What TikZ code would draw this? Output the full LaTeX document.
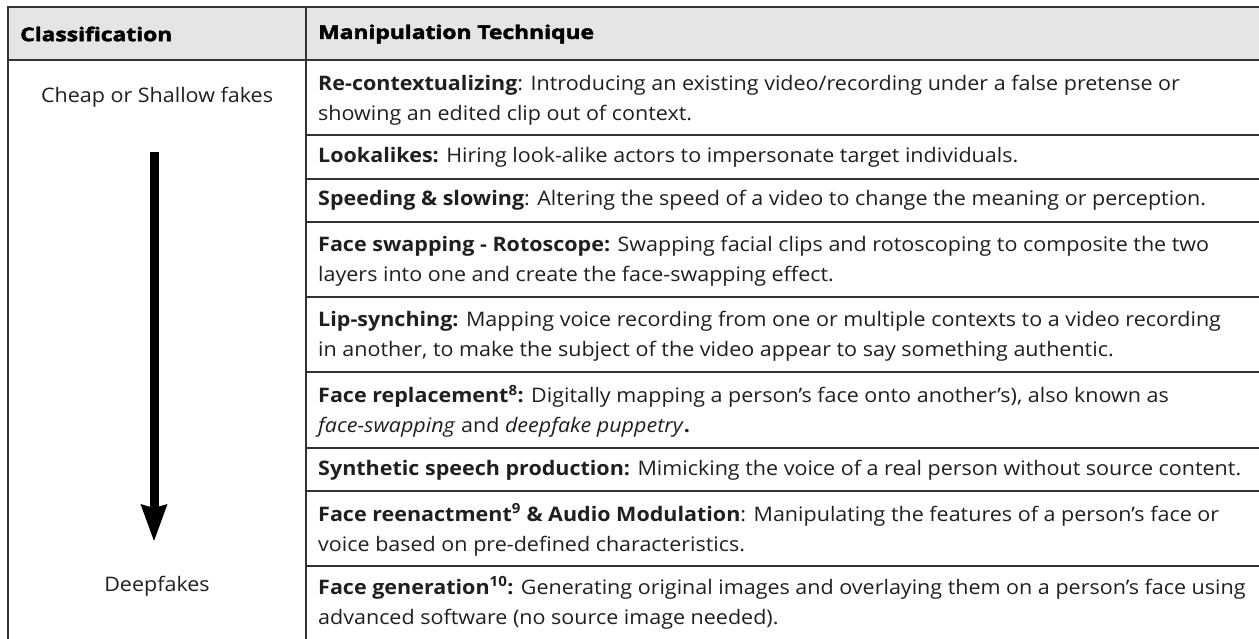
\documentclass[tikz,border=0pt]{standalone}
\usepackage{fontspec}
\setmainfont{Open Sans}[FakeStretch=1.075]
\newfontfamily\heavyfont{Open Sans}[FakeStretch=1.2, BoldFeatures={FakeBold=2.4}]
\usetikzlibrary{arrows.meta}
\begin{document}
\begin{tikzpicture}[x=1pt,y=-1pt,
  grid/.style={draw=black!80, line width=1.3pt},
  cell/.style={anchor=west, align=left, inner sep=0pt, font=\fontsize{20}{30}\selectfont, text=black!88},
  head/.style={anchor=west, inner sep=0pt, font=\heavyfont\bfseries\fontsize{19}{22}\selectfont, text=black},
  lab/.style={inner sep=0pt, font=\fontsize{20}{24}\selectfont, text=black!88},
  bigarrow/.style={line width=9pt, -{Stealth[length=37pt,width=27pt,inset=4pt,line width=0pt]}}
]
\useasboundingbox (0,0) rectangle (1259,638);
\fill[gray!20] (8,7) rectangle (1259,60);
\draw[grid] (1262,7) -- (8,7) -- (8,642);
\draw[grid] (306,7) -- (306,642);
\draw[grid] (8,60) -- (1262,60);
\foreach \yy in {135,179,222,297,372,448,491,566} {
  \draw[grid] (306,\yy) -- (1262,\yy);
}
\node[head] (hc) at (20,34) {Classification};
\node[head] (hm) at (318,34) {Manipulation Technique};

\node[lab] (cheap) at (157,97) {Cheap or Shallow fakes};
\node[lab] (deep) at (157,586) {Deepfakes};
\coordinate (atop) at (154,152);
\coordinate (abot) at (154,541);
\draw[bigarrow] (atop) -- (abot);

\node[cell] (r1) at (318,100) {\textbf{Re-contextualizing}: Introducing an existing video/recording under a false pretense or\\ showing an edited clip out of context.};
\node[cell] (r2) at (318,157) {\textbf{Lookalikes:} Hiring look-alike actors to impersonate target individuals.};
\node[cell] (r3) at (318,200.5) {\textbf{Speeding \& slowing}: Altering the speed of a video to change the meaning or perception.};
\node[cell] (r4) at (318,261) {\textbf{Face swapping - Rotoscope:} Swapping facial clips and rotoscoping to composite the two\\ layers into one and create the face-swapping effect.};
\node[cell] (r5) at (318,336) {\textbf{Lip-synching:} Mapping voice recording from one or multiple contexts to a video recording\\ in another, to make the subject of the video appear to say something authentic.};
\node[cell] (r6) at (318,411.5) {\textbf{Face replacement\textsuperscript{8}:} Digitally mapping a person’s face onto another’s), also known as\\ \textit{face-swapping} and \textit{deepfake puppetry}\textbf{.}};
\node[cell] (r7) at (318,470) {\textbf{Synthetic speech production:} Mimicking the voice of a real person without source content.};
\node[cell] (r8) at (318,530) {\textbf{Face reenactment\textsuperscript{9} \& Audio Modulation}: Manipulating the features of a person’s face or\\ voice based on pre-defined characteristics.};
\node[cell] (r9) at (318,603) {\textbf{Face generation\textsuperscript{10}:} Generating original images and overlaying them on a person’s face using\\ advanced software (no source image needed).};
\end{tikzpicture}
\end{document}
